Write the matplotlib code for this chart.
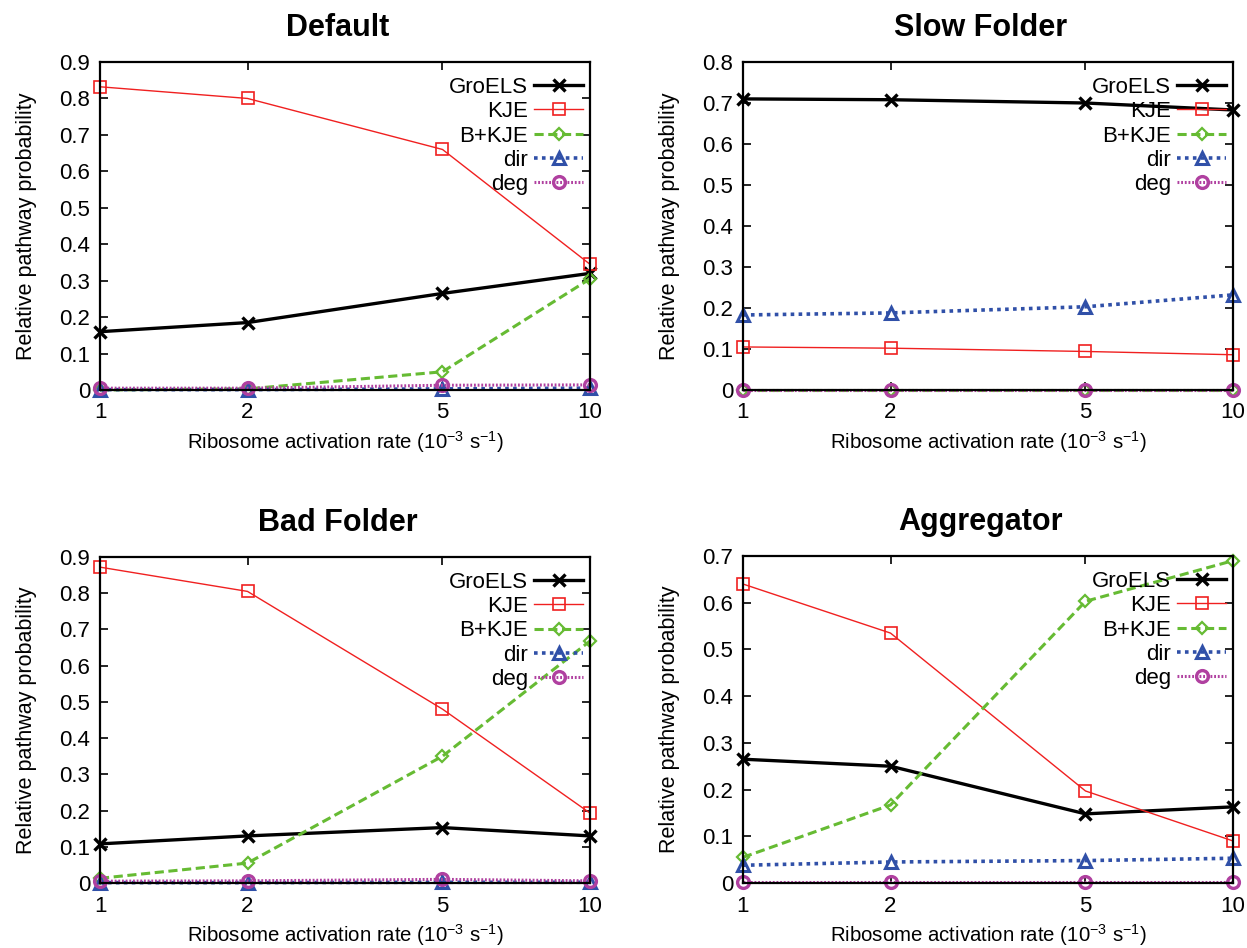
import numpy as np
import matplotlib
matplotlib.use("Agg")
import matplotlib.pyplot as plt

plt.rcParams['font.family'] = ['Liberation Sans', 'DejaVu Sans']
plt.rcParams['mathtext.default'] = 'regular'

# ribosome activation rates (10^-3 s^-1)
rates = [1, 2, 5, 10]
series_names = ["GroELS", "KJE", "B+KJE", "dir", "deg"]
panel_titles = ["Default", "Slow Folder", "Bad Folder", "Aggregator"]

default_groels = [0.160, 0.185, 0.265, 0.320]
default_kje = [0.832, 0.800, 0.660, 0.345]
default_bkje = [0.000, 0.003, 0.050, 0.305]
default_dir = [0.001, 0.001, 0.003, 0.005]
default_deg = [0.005, 0.005, 0.013, 0.014]

slow_groels = [0.710, 0.708, 0.700, 0.683]
slow_kje = [0.105, 0.102, 0.094, 0.086]
slow_bkje = [0.000, 0.000, 0.000, 0.000]
slow_dir = [0.183, 0.188, 0.203, 0.232]
slow_deg = [0.000, 0.000, 0.000, 0.000]

bad_groels = [0.108, 0.130, 0.153, 0.130]
bad_kje = [0.872, 0.805, 0.480, 0.193]
bad_bkje = [0.013, 0.055, 0.350, 0.668]
bad_dir = [0.001, 0.001, 0.002, 0.002]
bad_deg = [0.005, 0.006, 0.010, 0.006]

agg_groels = [0.265, 0.250, 0.148, 0.163]
agg_kje = [0.640, 0.535, 0.197, 0.090]
agg_bkje = [0.055, 0.167, 0.603, 0.690]
agg_dir = [0.038, 0.045, 0.048, 0.053]
agg_deg = [0.003, 0.003, 0.003, 0.003]

panel_data = [
    [default_groels, default_kje, default_bkje, default_dir, default_deg],
    [slow_groels, slow_kje, slow_bkje, slow_dir, slow_deg],
    [bad_groels, bad_kje, bad_bkje, bad_dir, bad_deg],
    [agg_groels, agg_kje, agg_bkje, agg_dir, agg_deg],
]
y_tops = [0.9, 0.8, 0.9, 0.7]

styles = [
    dict(color="black", ls="-", lw=2.4, marker="x", ms=9, mew=2.4),
    dict(color="#f02020", ls="-", lw=1.0, marker="s", ms=8.5, mew=1.2, mfc="none"),
    dict(color="#66bb33", ls=(0, (3, 1.5)), lw=2.2, marker="D", ms=6.5, mew=1.6, mfc="none"),
    dict(color="#3050a8", ls=(0, (1, 1.2)), lw=2.6, marker="^", ms=9, mew=2.2, mfc="none"),
    dict(color="#b040a0", ls=(0, (0.6, 0.6)), lw=2.2, marker="o", ms=8.5, mew=2.4, mfc="none"),
]

fig = plt.figure(figsize=(12.47, 9.48), dpi=100)
W, H = 1247, 948
boxes = [(100, 62, 590, 390), (743, 62, 1233, 390),
         (100, 557, 590, 883), (743, 556, 1233, 883)]

for k, (x0, y0, x1, y1) in enumerate(boxes):
    ax = fig.add_axes([x0 / W, 1 - y1 / H, (x1 - x0) / W, (y1 - y0) / H])
    for name, vals, st in zip(series_names, panel_data[k], styles):
        ax.plot(rates, vals, label=name, clip_on=False, **st)
    ax.set_xscale("log")
    ax.set_xlim(1, 10)
    ax.set_xticks(rates)
    ax.set_xticklabels([str(r) for r in rates])
    ax.minorticks_off()
    ax.set_ylim(0, y_tops[k])
    yt = np.round(np.arange(0, y_tops[k] + 0.001, 0.1), 1)
    ax.set_yticks(yt)
    ax.set_yticklabels(["0"] + ["%.1f" % v for v in yt[1:]])
    ax.tick_params(direction="in", top=True, right=True, length=6, width=1.2,
                   labelsize=16)
    ax.tick_params(axis="x", pad=9)
    ax.tick_params(axis="y", pad=7)
    for sp in ax.spines.values():
        sp.set_linewidth(1.6)
    ax.set_title(panel_titles[k], fontsize=22, fontweight="bold", pad=19, x=0.485)
    ax.set_xlabel("Ribosome activation rate (10$^{-3}$ s$^{-1}$)", fontsize=14.7, labelpad=4)
    ax.set_ylabel("Relative pathway probability", fontsize=15.5, labelpad=16)
    ax.legend(loc="upper right", frameon=False, markerfirst=False, fontsize=16,
              handlelength=2.2, labelspacing=0.15, borderaxespad=0, borderpad=0.3,
              handletextpad=0.3, bbox_to_anchor=(1.0, 0.975))
    leg = ax.get_legend()
    for t in leg.get_texts():
        t.set_ha("right")

fig.savefig("out.png", dpi=100)
